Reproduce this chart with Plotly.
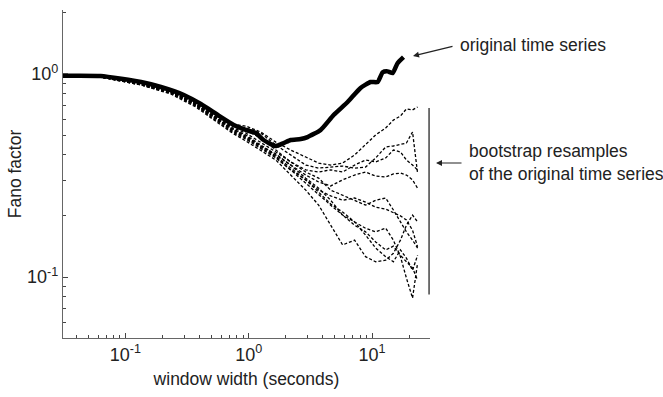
import plotly.graph_objects as go

# ---- data ----
orig_x = [0.031, 0.063, 0.134, 0.194, 0.298, 0.409, 0.561, 0.756, 0.946, 1.14, 1.32, 1.65, 1.92, 2.19,
          2.64, 3.00, 3.83, 4.88, 6.34, 8.07, 9.73, 11.1, 12.2, 13.4, 14.7, 16.1, 18.0]
orig_y = [0.98, 0.977, 0.913, 0.863, 0.788, 0.711, 0.628, 0.561, 0.530, 0.512, 0.473, 0.442, 0.457, 0.473,
          0.478, 0.489, 0.530, 0.628, 0.728, 0.853, 0.913, 0.913, 1.02, 1.03, 1.01, 1.13, 1.21]

boot_x = [0.031, 0.063, 0.134, 0.233, 0.372, 0.541, 0.715, 0.946, 1.25, 1.66, 2.19, 2.90, 3.69, 4.62,
          5.77, 7.22, 8.86, 10.7, 12.9, 14.9, 17.0, 19.0, 21.3, 23.4]

boot_1 = [0.98, 0.967, 0.893, 0.825, 0.720, 0.628, 0.567, 0.554, 0.518, 0.462, 0.422, 0.390, 0.364, 0.356,
          0.364, 0.399, 0.447, 0.501, 0.542, 0.593, 0.621, 0.673, 0.665, 0.688]
boot_2 = [0.98, 0.967, 0.893, 0.815, 0.711, 0.614, 0.554, 0.542, 0.512, 0.447, 0.399, 0.356, 0.344, 0.348,
          0.352, 0.344, 0.348, 0.386, 0.437, 0.442, 0.452, 0.457, 0.518, 0.325]
boot_3 = [0.98, 0.967, 0.883, 0.806, 0.703, 0.607, 0.542, 0.501, 0.447, 0.399, 0.356, 0.318, 0.294, 0.281,
          0.301, 0.318, 0.329, 0.314, 0.311, 0.322, 0.325, 0.318, 0.301, 0.274]
boot_4 = [0.98, 0.978, 0.893, 0.815, 0.703, 0.600, 0.530, 0.484, 0.437, 0.390, 0.337, 0.301, 0.268, 0.251,
          0.239, 0.245, 0.234, 0.221, 0.216, 0.207, 0.200, 0.191, 0.170, 0.141]
boot_5 = [0.98, 0.967, 0.883, 0.797, 0.688, 0.587, 0.518, 0.468, 0.422, 0.377, 0.318, 0.268, 0.226, 0.180,
          0.144, 0.152, 0.126, 0.119, 0.121, 0.131, 0.152, 0.180, 0.202, 0.187]
boot_6 = [0.98, 0.967, 0.883, 0.806, 0.696, 0.593, 0.524, 0.478, 0.432, 0.386, 0.337, 0.290, 0.253, 0.226,
          0.202, 0.187, 0.174, 0.167, 0.174, 0.152, 0.126, 0.0989, 0.0788, 0.117]
boot_7 = [0.98, 0.978, 0.893, 0.815, 0.711, 0.607, 0.536, 0.489, 0.442, 0.394, 0.344, 0.301, 0.262, 0.229,
          0.209, 0.187, 0.161, 0.139, 0.126, 0.119, 0.136, 0.124, 0.108, 0.128]
boot_8 = [0.98, 0.967, 0.893, 0.815, 0.720, 0.621, 0.561, 0.530, 0.484, 0.422, 0.369, 0.329, 0.307, 0.268,
          0.253, 0.239, 0.226, 0.239, 0.245, 0.214, 0.187, 0.167, 0.152, 0.139]
boot_9 = [0.98, 0.978, 0.903, 0.825, 0.711, 0.607, 0.542, 0.495, 0.442, 0.404, 0.356, 0.307, 0.274, 0.239,
          0.202, 0.180, 0.167, 0.149, 0.136, 0.142, 0.128, 0.119, 0.111, 0.0966]
boot_10 = [0.98, 0.967, 0.893, 0.815, 0.711, 0.614, 0.548, 0.512, 0.462, 0.413, 0.369, 0.337, 0.329, 0.337,
           0.329, 0.356, 0.377, 0.369, 0.386, 0.422, 0.413, 0.377, 0.356, 0.337]
boot_series = [boot_1, boot_2, boot_3, boot_4, boot_5, boot_6, boot_7, boot_8, boot_9, boot_10]

bracket_x = [29.0, 29.0]
bracket_y = [0.68, 0.082]

x_tickvals = [0.1, 1, 10]
x_ticktext = ["10<sup>-1</sup>", "10<sup>0</sup>", "10<sup>1</sup>"]
y_tickvals = [0.1, 1]
y_ticktext = ["10<sup>-1</sup>", "10<sup>0</sup>"]
minor_vals = [m * 10 ** e for e in (-2, -1, 0, 1) for m in range(2, 10)]

FONT = "Liberation Sans, Arial, Helvetica, sans-serif"

fig = go.Figure()
for ys in boot_series:
    fig.add_trace(go.Scatter(x=boot_x, y=ys, mode="lines",
                             line=dict(color="black", width=1.3, dash="3px,2px"),
                             showlegend=False, hoverinfo="skip"))
fig.add_trace(go.Scatter(x=orig_x, y=orig_y, mode="lines",
                         line=dict(color="black", width=4.5, shape="spline", smoothing=0.5),
                         showlegend=False))
fig.add_trace(go.Scatter(x=bracket_x, y=bracket_y, mode="lines",
                         line=dict(color="#444", width=1.5), showlegend=False, hoverinfo="skip"))

# plot area in pixels: x 63..430, y 10..338
L, R, T, B = 63, 430, 10, 338
W, H = 663, 397


def px(x):
    return (x - L) / (R - L)


def py(y):
    return (B - y) / (B - T)


axis_common = dict(
    type="log", showgrid=False, zeroline=False, showline=True, linecolor="#666", linewidth=1.3,
    ticks="inside", ticklen=5, tickcolor="#444", tickwidth=1,
    tickfont=dict(family=FONT, size=18, color="#222"),
    minor=dict(tickvals=minor_vals, ticks="inside", ticklen=3, tickcolor="#444", tickwidth=1),
    mirror=False,
)

fig.update_layout(
    width=W, height=H,
    margin=dict(l=L, r=W - R, t=T, b=H - B),
    paper_bgcolor="white", plot_bgcolor="white",
    font=dict(family=FONT, color="#222"),
    xaxis=dict(axis_common, range=[-1.506, 1.47], tickvals=x_tickvals, ticktext=x_ticktext,
               title=dict(text="window width (seconds)", font=dict(family=FONT, size=17.5, color="#222"),
                          standoff=8)),
    yaxis=dict(axis_common, range=[-1.30, 0.315], tickvals=y_tickvals, ticktext=y_ticktext,
               title=dict(text="Fano factor", font=dict(family=FONT, size=17.5, color="#222"), standoff=0)),
    annotations=[
        dict(xref="paper", yref="paper", x=px(458), y=py(45), text="original time series",
             showarrow=False, xanchor="left", yanchor="middle",
             font=dict(family=FONT, size=17.5, color="#222")),
        dict(xref="paper", yref="paper", x=px(413), y=py(56), ax=41, ay=-10, text="",
             showarrow=True, arrowhead=2, arrowsize=1, arrowwidth=1.2, arrowcolor="#222"),
        dict(xref="paper", yref="paper", x=px(467), y=py(162),
             text="bootstrap resamples<br>of the original time series",
             showarrow=False, xanchor="left", yanchor="middle", align="left",
             font=dict(family=FONT, size=17.5, color="#222")),
        dict(xref="paper", yref="paper", x=px(436), y=py(163), ax=27, ay=0, text="",
             showarrow=True, arrowhead=2, arrowsize=1, arrowwidth=1.2, arrowcolor="#222"),
    ],
)

fig.write_html("out.html")
